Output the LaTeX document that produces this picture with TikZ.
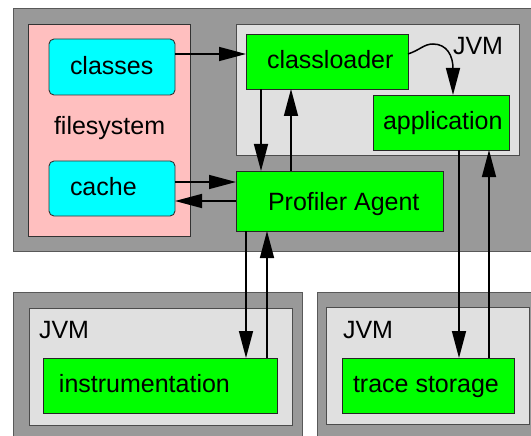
\documentclass[tikz,border=0pt]{standalone}
\usepackage{fontspec}
\setmainfont{Liberation Sans}
\usetikzlibrary{arrows.meta}
\definecolor{hostgray}{HTML}{999999}
\definecolor{jvmgray}{HTML}{E0E0E0}
\definecolor{fspink}{HTML}{FFBFBF}
\definecolor{filecyan}{HTML}{00FFFF}
\definecolor{compgreen}{HTML}{00FF00}
\tikzset{
  area/.style={rectangle, inner sep=0pt, outer sep=0pt, anchor=north west, line width=0.9pt},
  host/.style={area, draw=black!65, fill=hostgray},
  jvm/.style={area, draw=black!70, fill=jvmgray},
  fs/.style={area, draw=black!80, fill=fspink},
  file/.style={area, draw=black!80, fill=filecyan, rounded corners=5pt},
  comp/.style={area, draw=black!85, fill=compgreen},
  txt/.style={anchor=base west, inner sep=0pt, outer sep=0pt},
  arr/.style={line width=1.5pt, -{Triangle[length=27pt,width=14pt]}},
}
\begin{document}
\begin{tikzpicture}[x=1pt, y=-1pt, font=\fontsize{25}{30}\selectfont]
\useasboundingbox (0,0) rectangle (531,436);
\clip (0,0) rectangle (531,436);
\fill[white] (0,0) rectangle (531,436);

% host machine with the profiled JVM and its filesystem
\node[host, minimum width=540pt, minimum height=242.5pt] (host1) at (13,8.5) {};
\node[fs, minimum width=162pt, minimum height=212pt] (fsys) at (28,24) {};
\node[file, minimum width=126pt, minimum height=56pt] (classes) at (49,39) {};
\node[file, minimum width=126pt, minimum height=55pt] (cache) at (49,161) {};
\node[jvm, minimum width=283pt, minimum height=131pt] (jvm1) at (236,24) {};
\node[comp, minimum width=162pt, minimum height=55pt] (loader) at (246,34) {};
\node[comp, minimum width=136pt, minimum height=55pt] (app) at (373,95) {};
\node[comp, minimum width=207pt, minimum height=60pt] (agent) at (236,171) {};

% instrumentation JVM
\node[host, minimum width=289pt, minimum height=160pt] (host2) at (13,292) {};
\node[jvm, minimum width=263pt, minimum height=117pt] (jvm2) at (29,308) {};
\node[comp, minimum width=234pt, minimum height=55pt] (instr) at (43,358) {};

% trace storage JVM
\node[host, minimum width=230pt, minimum height=160pt] (host3) at (317,292) {};
\node[jvm, minimum width=203pt, minimum height=117pt] (jvm3) at (326,307) {};
\node[comp, minimum width=172pt, minimum height=55pt] (trace) at (342,358) {};

% labels
\node[txt] (classesT) at (70,74.3) {classes};
\node[txt] (fsysT) at (54,134.3) {filesystem};
\node[txt] (cacheT) at (70,195) {cache};
\node[txt] (loaderT) at (267,69) {classloader};
\node[txt] (jvm1T) at (453,55) {JVM};
\node[txt] (appT) at (383,129) {application};
\node[txt] (agentT) at (268,210.7) {Profiler Agent};
\node[txt] (jvm2T) at (39,338) {JVM};
\node[txt] (instrT) at (59,392) {instrumentation};
\node[txt] (jvm3T) at (343,338) {JVM};
\node[txt] (traceT) at (353,392) {trace storage};

% connectors
\draw[arr] (classes.east |- 0,54) -- (loader.west |- 0,54);
\draw[arr] (cache.east |- 0,182) -- (agent.west |- 0,182);
\draw[arr] (agent.west |- 0,201) -- (cache.east |- 0,201);
\draw[arr] (loader.south -| 261,0) -- (agent.north -| 261,0);
\draw[arr] (agent.north -| 291,0) -- (loader.south -| 291,0);
\draw[arr] (loader.east |- 0,54) .. controls (420,50) and (424,44) .. (433,44)
           .. controls (447,44) and (453,56) .. (app.north -| 453,0);
\draw[arr] (app.south -| 459,0) -- (trace.north -| 459,0);
\draw[arr] (trace.north -| 489,0) -- (app.south -| 489,0);
\draw[arr] (agent.south -| 246,0) -- (instr.north -| 246,0);
\draw[arr] (instr.north -| 267,0) -- (agent.south -| 267,0);
\end{tikzpicture}
\end{document}
